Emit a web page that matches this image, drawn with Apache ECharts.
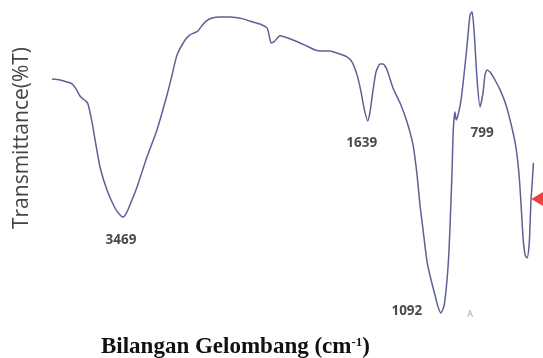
<!DOCTYPE html>
<html>
<head>
<meta charset="utf-8">
<script src="https://cdn.jsdelivr.net/npm/echarts@6/dist/echarts.min.js"></script>
<style>html,body{margin:0;padding:0;background:#fff}#c{width:543px;height:358px}</style>
</head>
<body>
<div id="c"></div>
<script>
// Wavenumber (cm^-1), descending from 4000 to 400
const wavenumber = [4000,3940,3888,3850,3820,3791,3768,3746,3731,3701,3678,3641,3589,3529,3491,3469,3439,3402,3364,3290,3215,3140,3102,3065,3005,2968,2938,2908,2886,2848,2803,2743,2669,2571,2497,2429,2392,2377,2362,2340,2295,2198,2108,2033,1981,1921,1846,1794,1756,1719,1689,1667,1639,1622,1599,1577,1547,1524,1494,1450,1397,1345,1300,1270,1248,1225,1195,1165,1136,1113,1092,1068,1046,1031,1016,1008,1001,993,986,978,963,941,919,896,874,859,844,821,799,777,762,747,724,687,649,605,560,530,507,492,477,462,447,432,425,418,410,403,400];
// Transmittance (%T)
const transmittance = [75.3,75.0,74.4,73.8,72.2,70.0,69.1,68.4,67.5,61.9,56.3,47.8,40.6,35.0,32.8,32.2,33.8,37.5,41.6,50.9,59.4,70.3,76.6,82.8,87.5,89.1,89.7,90.3,91.6,93.4,94.4,94.7,94.7,94.1,93.1,92.2,91.3,89.1,86.6,86.9,88.8,87.5,85.9,84.4,84.1,84.1,83.1,82.2,80.6,76.6,71.3,66.3,62.2,65.0,71.9,77.5,80.0,80.0,78.1,72.5,67.8,61.9,54.7,45.3,35.9,28.1,18.1,12.5,7.8,4.1,2.2,4.4,12.5,21.9,37.5,46.9,57.8,63.1,65.0,62.5,64.1,68.8,76.6,85.9,95.3,96.3,90.6,75.0,66.6,70.9,76.6,78.1,77.5,75.0,71.9,67.2,60.0,53.8,45.3,35.9,25.6,20.3,19.4,23.4,29.7,37.5,42.2,46.9,49.1];

// Peak annotations
const peakLabels = ['3469','1639','1092','799'];
const peakX = [3469,1639,1092,799];
const peakY = [32.2,62.2,2.2,66.6];

// Extra marks
const arrowPoint = [360, 37.8];
const smallMarkText = 'A';
const smallMarkPoint = [874, 1.6];

const xTitle = 'Bilangan Gelombang (cm{sup|-1})';
const yTitle = 'Transmittance(%T)';

const labelOffsets = [[-2,23],[-6,22],[-34,-2],[2,26]];

const chart = echarts.init(document.getElementById('c'), null, {renderer:'canvas'});
chart.setOption({
  animation:false,
  backgroundColor:'#ffffff',
  grid:{left:52, right:9.6, top:0, bottom:38, containLabel:false},
  xAxis:{type:'value', min:400, max:4000, inverse:true, show:false},
  yAxis:{type:'value', min:0, max:100, show:false},
  title:{
    text:xTitle, left:96, top:331,
    textStyle:{fontFamily:'Liberation Serif', fontWeight:'bold', fontSize:23, color:'#111',
      rich:{sup:{fontFamily:'Liberation Serif', fontWeight:'bold', fontSize:13, color:'#111', verticalAlign:'top', padding:[0,0,10,0]}}}
  },
  graphic:[{
    type:'text', x:22, y:138, rotation:Math.PI/2,
    style:{text:yTitle, fontFamily:'Open Sans', fontSize:21, fill:'#444', align:'center', verticalAlign:'middle'}
  }],
  series:[
    {type:'line', data:wavenumber.map((w,i)=>[w,transmittance[i]]), showSymbol:false, symbol:'none', smooth:0.2,
     lineStyle:{color:'#5e6196', width:1.5}, clip:false, z:2},
    {type:'scatter', symbolSize:0, clip:false, z:3,
     data:peakLabels.map((t,i)=>({value:[peakX[i],peakY[i]], label:{show:true, formatter:t, position:'inside', offset:labelOffsets[i], fontFamily:'Open Sans', fontWeight:'bold', fontSize:13.5, color:'#1a1a1a'}}))},
    {type:'scatter', clip:false, z:4, symbol:'triangle', symbolRotate:90, symbolSize:[18,15],
     itemStyle:{color:'#e8140c'}, data:[arrowPoint]},
    {type:'scatter', symbolSize:0, clip:false, z:3,
     data:[{value:smallMarkPoint, label:{show:true, formatter:smallMarkText, position:'inside', fontSize:9, color:'#888', fontFamily:'Open Sans'}}]}
  ]
});
</script>
</body>
</html>
